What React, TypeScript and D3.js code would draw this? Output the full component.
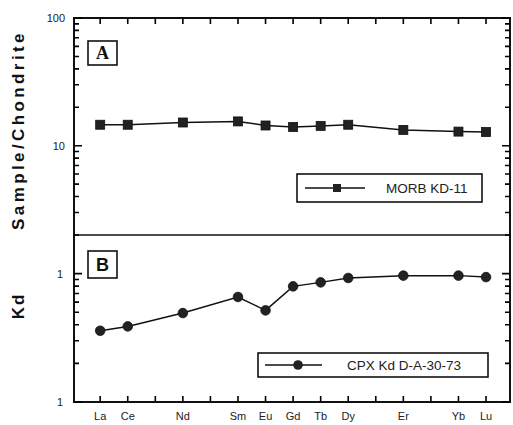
import * as d3 from 'd3';

// REE elements along x (15 slots, only some are labelled / measured)
const ELEMENTS = ['La', 'Ce', 'Pr', 'Nd', 'Pm', 'Sm', 'Eu', 'Gd', 'Tb', 'Dy', 'Ho', 'Er', 'Tm', 'Yb', 'Lu'];
const LABELLED = ['La', 'Ce', 'Nd', 'Sm', 'Eu', 'Gd', 'Tb', 'Dy', 'Er', 'Yb', 'Lu'];

// Panel A — MORB KD-11, chondrite normalised
const MORB = [14.6, 14.6, 15.2, 15.5, 14.4, 14.0, 14.3, 14.6, 13.3, 12.9, 12.8];
// Panel B — CPX partition coefficients D-A-30-73
const CPX = [0.359, 0.388, 0.493, 0.658, 0.517, 0.796, 0.855, 0.925, 0.965, 0.965, 0.94];

const A_TICKS = [10, 100];
const A_TICK_LABELS = ['10', '100'];
const B_TICKS = [0.1, 1];
const B_TICK_LABELS = ['1', '1'];
const A_MINOR = [2, 3, 4, 5, 6, 7, 8, 9, 20, 30, 40, 50, 60, 70, 80, 90];
const B_MINOR = [0.2, 0.3, 0.4, 0.5, 0.6, 0.7, 0.8, 0.9];

const W = 513, H = 425;
const L = 74, R = 510, T = 18, MID = 235, B = 402;

const x = d3.scaleLinear().domain([-0.95, 14.87]).range([L, R]);
const yA = d3.scaleLog().domain([2, 100]).range([MID, T]);
const yB = d3.scaleLog().domain([0.1, 2]).range([B, MID]);

const font = 'Liberation Sans, Arial, Helvetica, sans-serif';

export default function App() {
  const ptsA = LABELLED.map((el, i) => [x(ELEMENTS.indexOf(el)), yA(MORB[i])] as [number, number]);
  const ptsB = LABELLED.map((el, i) => [x(ELEMENTS.indexOf(el)), yB(CPX[i])] as [number, number]);
  const line = d3.line();

  // all tick marks as one path (inward on every side)
  const tp = d3.path();
  const hTick = (yy: number, len: number) => {
    tp.moveTo(L, yy); tp.lineTo(L + len, yy);
    tp.moveTo(R, yy); tp.lineTo(R - len, yy);
  };
  A_MINOR.forEach(v => hTick(yA(v), 5));
  B_MINOR.forEach(v => hTick(yB(v), 5));
  A_TICKS.forEach(v => hTick(yA(v), 8));
  B_TICKS.forEach(v => hTick(yB(v), 8));
  ELEMENTS.forEach((_, i) => {
    tp.moveTo(x(i), T); tp.lineTo(x(i), T + 6);
    tp.moveTo(x(i), B); tp.lineTo(x(i), B - 6);
  });

  return (
    <svg width={W} height={H} style={{ position: 'absolute', left: 0, top: 0, background: '#fff' }}>
      {/* y titles */}
      <text transform={`translate(24,130) rotate(-90)`} textAnchor="middle" fontFamily={font}
        fontWeight="bold" fontSize={17} letterSpacing={3.4} fill="#111">Sample/Chondrite</text>
      <text transform={`translate(24,306) rotate(-90)`} textAnchor="middle" fontFamily={font}
        fontWeight="bold" fontSize={17} letterSpacing={2} fill="#111">Kd</text>

      {/* frame */}
      <rect x={L} y={T} width={R - L} height={B - T} fill="none" stroke="#111" strokeWidth={2} />
      <line x1={L} x2={R} y1={MID} y2={MID} stroke="#111" strokeWidth={1.6} />

      {/* tick labels */}
      <g fontFamily={font} fontSize={11} fill="#222" textAnchor="end">
        {A_TICKS.map((v, i) => (
          <text key={'a' + v} x={65} y={yA(v) + 4}>{A_TICK_LABELS[i]}</text>
        ))}
        {B_TICKS.map((v, i) => (
          <text key={'b' + v} x={63} y={yB(v) + 4}>{B_TICK_LABELS[i]}</text>
        ))}
      </g>
      <g fontFamily={font} fontSize={11} fill="#222" textAnchor="middle">
        {LABELLED.map(el => (
          <text key={el} x={x(ELEMENTS.indexOf(el))} y={420}>{el}</text>
        ))}
      </g>

      {/* panel labels */}
      <rect x={88} y={41} width={29} height={24} fill="#fff" stroke="#111" strokeWidth={1.6} />
      <text x={102.5} y={59} textAnchor="middle" fontFamily="Liberation Serif, Times New Roman, serif"
        fontWeight="bold" fontSize={18} fill="#111">A</text>
      <rect x={88} y={251} width={29} height={27} fill="#fff" stroke="#111" strokeWidth={1.6} />
      <text x={102.5} y={271} textAnchor="middle" fontFamily={font} fontWeight="bold" fontSize={18} fill="#111">B</text>

      {/* series A */}
      <path d={line(ptsA) ?? ''} fill="none" stroke="#111" strokeWidth={1.5} />
      {ptsA.map(([px, py], i) => (
        <rect key={i} x={px - 4.5} y={py - 4.5} width={9} height={9} fill="#222" stroke="#111" strokeWidth={0.8} />
      ))}

      {/* series B */}
      <path d={line(ptsB) ?? ''} fill="none" stroke="#111" strokeWidth={1.5} />
      {ptsB.map(([px, py], i) => (
        <circle key={i} cx={px} cy={py} r={4.8} fill="#222" stroke="#111" strokeWidth={0.8} />
      ))}

      {/* legend A */}
      <rect x={297} y={174} width={185} height={28} fill="#fff" stroke="#111" strokeWidth={1.6} />
      <line x1={305} x2={365} y1={188} y2={188} stroke="#111" strokeWidth={1.3} />
      <rect x={333} y={184} width={8} height={8} fill="#222" />
      <text x={386} y={193} fontFamily={font} fontSize={13.5} fill="#222">MORB KD-11</text>

      {/* legend B */}
      <rect x={258} y={353} width={230} height={24} fill="#fff" stroke="#111" strokeWidth={1.6} />
      <line x1={265} x2={322} y1={365} y2={365} stroke="#111" strokeWidth={1.3} />
      <circle cx={298} cy={365} r={4.8} fill="#222" />
      <text x={347} y={370} fontFamily={font} fontSize={13.5} fill="#222">CPX Kd D-A-30-73</text>

      {/* ticks, drawn last */}
      <path d={tp.toString()} fill="none" stroke="#000" strokeWidth={1.6} />
    </svg>
  );
}
